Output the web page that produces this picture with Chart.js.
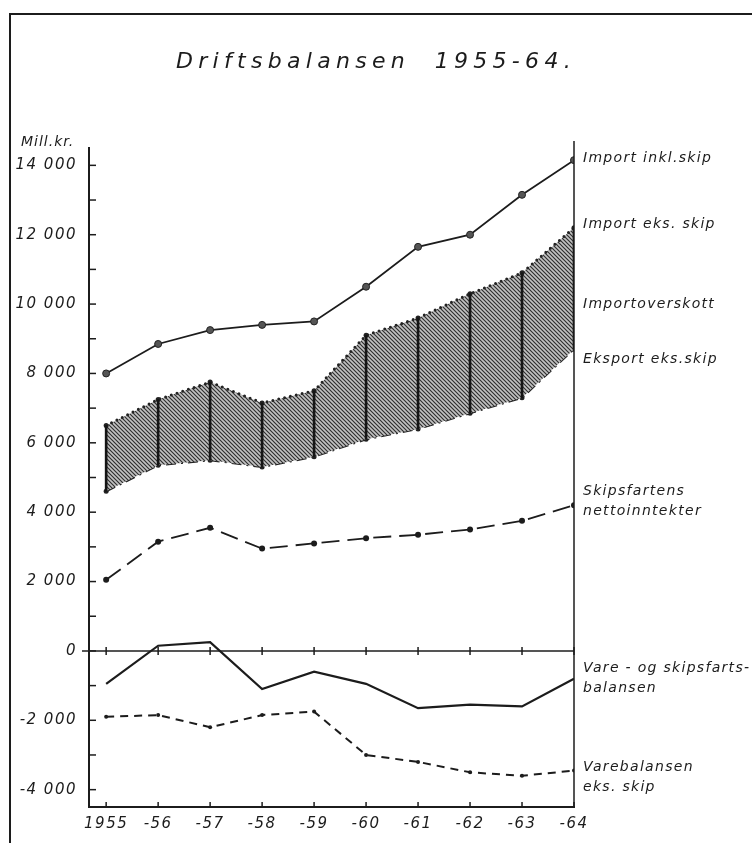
<!DOCTYPE html>
<html>
<head>
<meta charset="utf-8">
<script src="https://cdn.jsdelivr.net/npm/chart.js@4.4.1/dist/chart.umd.min.js"></script>
<style>
  html, body { margin: 0; padding: 0; background: #fff; }
  canvas { display: block; }
</style>
</head>
<body>
<canvas id="chart" width="752" height="843"></canvas>
<script>
// Driftsbalansen 1955-64, mill. kr.
const years = [1955, 1956, 1957, 1958, 1959, 1960, 1961, 1962, 1963, 1964]
const yearLabels = ['1955', '-56', '-57', '-58', '-59', '-60', '-61', '-62', '-63', '-64']

const importInklSkip = [8000, 8850, 9250, 9400, 9500, 10500, 11650, 12000, 13150, 14150]
const importEksSkip = [6500, 7250, 7750, 7150, 7500, 9100, 9600, 10300, 10900, 12200]
const eksportEksSkip = [4600, 5350, 5500, 5300, 5600, 6100, 6400, 6850, 7300, 8700]
const skipsfartNetto = [2050, 3150, 3550, 2950, 3100, 3250, 3350, 3500, 3750, 4200]
const vareOgSkipsfart = [-950, 150, 250, -1100, -600, -950, -1650, -1550, -1600, -800]
const varebalansen = [-1900, -1850, -2200, -1850, -1750, -3000, -3200, -3500, -3600, -3450]

const yTicks = [-4000, -3000, -2000, -1000, 0, 1000, 2000, 3000, 4000, 5000, 6000,
  7000, 8000, 9000, 10000, 11000, 12000, 13000, 14000]

// Texts on the right side, anchored at a value on the y axis
const sideLabels = [
  { lines: ['Import inkl.skip'], at: 14200 },
  { lines: ['Import eks. skip'], at: 12300 },
  { lines: ['Importoverskott'], at: 10000 },
  { lines: ['Eksport eks.skip'], at: 8400 },
  { lines: ['Skipsfartens', 'nettoinntekter'], at: 4600 },
  { lines: ['Vare - og skipsfarts-', 'balansen'], at: -500 },
  { lines: ['Varebalansen', 'eks. skip'], at: -3350 }
]

const ink = '#1c1c1c'
const fontFamily = '"DejaVu Sans", sans-serif'

const pts = function (values) {
  return years.map((x, i) => ({ x, y: values[i] }))
}

const fmtTick = function (v) {
  if (v % 2000 !== 0) return ''
  if (v === 0) return '0'
  const s = String(Math.abs(v))
  return (v < 0 ? '-' : '') + s.slice(0, -3) + ' ' + s.slice(-3)
}

const canvas = document.getElementById('chart')
const mainCtx = canvas.getContext('2d')

// Diagonal hatch for the import surplus
const makeHatch = function () {
  const tile = document.createElement('canvas')
  tile.width = 4
  tile.height = 4
  const g = tile.getContext('2d')
  g.fillStyle = '#c2c2c2'
  g.fillRect(0, 0, 4, 4)
  g.strokeStyle = '#2e2e2e'
  g.lineWidth = 1.15
  g.beginPath()
  g.moveTo(-1, -1); g.lineTo(5, 5)
  g.moveTo(-1, 3); g.lineTo(1, 5)
  g.moveTo(3, -1); g.lineTo(5, 1)
  g.stroke()
  return mainCtx.createPattern(tile, 'repeat')
}

const line = function (ctx, x1, y1, x2, y2) {
  ctx.beginPath()
  ctx.moveTo(x1, y1)
  ctx.lineTo(x2, y2)
  ctx.stroke()
}

const decor = {
  id: 'decor',
  beforeDraw (chart) {
    const { ctx } = chart
    ctx.save()
    ctx.fillStyle = '#fff'
    ctx.fillRect(0, 0, chart.width, chart.height)
    // page frame
    ctx.strokeStyle = ink
    ctx.lineWidth = 2
    ctx.beginPath()
    ctx.moveTo(10, chart.height)
    ctx.lineTo(10, 14)
    ctx.lineTo(chart.width, 14)
    ctx.stroke()
    ctx.restore()
    ctx.letterSpacing = '1.5px'
  },
  afterDraw (chart) {
    const { ctx, chartArea: a, scales: { x, y } } = chart
    ctx.save()
    ctx.letterSpacing = '0px'
    ctx.strokeStyle = ink
    ctx.lineWidth = 1.5

    // ticks inside the left axis
    yTicks.forEach(v => {
      const py = y.getPixelForValue(v)
      line(ctx, a.left, py, a.left + 7, py)
    })

    // right axis
    const xr = x.getPixelForValue(years[years.length - 1])
    line(ctx, xr, a.top - 7, xr, a.bottom)

    // zero line with year ticks
    const y0 = y.getPixelForValue(0)
    line(ctx, a.left - 7, y0, a.right, y0)
    years.forEach(v => {
      const px = x.getPixelForValue(v)
      line(ctx, px, y0 - 4, px, y0 + 4)
      line(ctx, px, a.bottom, px, a.bottom - 5)
    })

    ctx.fillStyle = ink
    ctx.textBaseline = 'middle'
    ctx.textAlign = 'left'

    // title
    const title = 'Driftsbalansen  1955-64.'
    ctx.font = 'italic 22px ' + fontFamily
    const w0 = ctx.measureText(title).width
    ctx.letterSpacing = ((400 - w0) / title.length) + 'px'
    ctx.fillText(title, 176, 62)

    // unit
    ctx.font = 'italic 14px ' + fontFamily
    ctx.letterSpacing = '1px'
    ctx.fillText('Mill.kr.', 21, 142)

    // series names
    ctx.font = 'italic 14px ' + fontFamily
    ctx.letterSpacing = '1.3px'
    sideLabels.forEach(lbl => {
      const py = y.getPixelForValue(lbl.at)
      lbl.lines.forEach((t, i) => ctx.fillText(t, xr + 9, py + i * 20))
    })
    ctx.restore()
    ctx.letterSpacing = '0px'
  }
}

const hatch = makeHatch()

new Chart(mainCtx, {
  type: 'line',
  data: {
    datasets: [
      {
        type: 'bar',
        label: 'Importoverskott',
        data: years.map((x, i) => ({ x, y: [eksportEksSkip[i], importEksSkip[i]] })),
        backgroundColor: '#151515',
        barThickness: 2,
        order: -1
      },
      {
        label: 'Import inkl. skip',
        data: pts(importInklSkip),
        borderColor: ink,
        borderWidth: 1.8,
        pointRadius: 3.5,
        pointBackgroundColor: '#555',
        pointBorderColor: '#222',
        pointBorderWidth: 1
      },
      {
        label: 'Import eks. skip',
        data: pts(importEksSkip),
        borderColor: '#222',
        borderWidth: 3,
        borderDash: [0, 6],
        borderCapStyle: 'round',
        pointRadius: 2.5,
        pointBackgroundColor: '#222',
        pointBorderWidth: 0,
        fill: '+1',
        backgroundColor: hatch
      },
      {
        label: 'Eksport eks. skip',
        data: pts(eksportEksSkip),
        borderColor: '#222',
        borderWidth: 2,
        borderDash: [10, 5, 2, 5],
        pointRadius: 2.5,
        pointBackgroundColor: '#222',
        pointBorderWidth: 0
      },
      {
        label: 'Skipsfartens nettoinntekter',
        data: pts(skipsfartNetto),
        borderColor: ink,
        borderWidth: 1.8,
        borderDash: [18, 8],
        pointRadius: 3,
        pointBackgroundColor: ink,
        pointBorderWidth: 0
      },
      {
        label: 'Vare- og skipsfartsbalansen',
        data: pts(vareOgSkipsfart),
        borderColor: ink,
        borderWidth: 2.2,
        pointRadius: 0
      },
      {
        label: 'Varebalansen eks. skip',
        data: pts(varebalansen),
        borderColor: ink,
        borderWidth: 2,
        borderDash: [8, 6],
        pointRadius: 2,
        pointBackgroundColor: ink,
        pointBorderWidth: 0
      }
    ]
  },
  options: {
    responsive: false,
    animation: false,
    layout: { padding: { left: 10, top: 148, right: 178, bottom: 6 } },
    plugins: {
      legend: { display: false },
      tooltip: { enabled: false },
      title: { display: false }
    },
    scales: {
      x: {
        type: 'linear',
        min: 1954.67,
        max: 1964,
        offset: false,
        afterBuildTicks: s => { s.ticks = years.map(v => ({ value: v })) },
        afterFit: s => { s.height = 30 },
        ticks: {
          callback: v => yearLabels[years.indexOf(v)],
          font: { family: fontFamily, size: 15, style: 'italic' },
          color: ink,
          padding: 8,
          maxRotation: 0,
          autoSkip: false
        },
        grid: { display: false, drawTicks: false },
        border: { display: true, color: ink, width: 2 }
      },
      y: {
        min: -4500,
        max: 14500,
        afterBuildTicks: s => { s.ticks = yTicks.map(v => ({ value: v })) },
        afterFit: s => { s.width = 79 },
        ticks: {
          callback: v => fmtTick(v),
          font: { family: fontFamily, size: 15, style: 'italic' },
          color: ink,
          padding: 12,
          autoSkip: false
        },
        grid: { display: false, drawTicks: false },
        border: { display: true, color: ink, width: 2 }
      }
    }
  },
  plugins: [decor]
})
</script>
</body>
</html>
